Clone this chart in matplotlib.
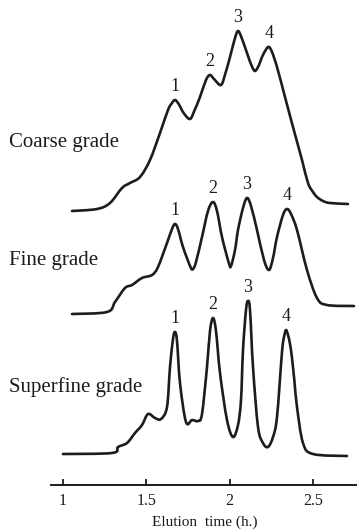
import matplotlib
matplotlib.use("Agg")
import matplotlib.pyplot as plt
import numpy as np
from matplotlib.path import Path
from matplotlib.patches import PathPatch

# elution time (h) and detector response (arbitrary units, above each trace's own baseline)
coarse_t = [1.054, 1.204, 1.282, 1.354, 1.402, 1.462, 1.522, 1.582, 1.630, 1.654, 1.672,
            1.694, 1.724, 1.762, 1.790, 1.822, 1.858, 1.882, 1.906, 1.948, 1.975, 2.002,
            2.032, 2.050, 2.070, 2.104, 2.130, 2.152, 2.176, 2.194, 2.220, 2.236, 2.254,
            2.284, 2.332, 2.380, 2.434, 2.470, 2.500, 2.524, 2.560, 2.602, 2.710]
coarse_y = [0, 2, 8, 23, 28, 34, 51, 78, 101, 108, 111,
            107, 98, 92, 101, 114, 131, 136, 132, 126, 138, 154,
            173, 180, 174, 158, 146, 140, 146, 154, 162, 164, 159,
            144, 114, 84, 51, 28, 19, 14, 10, 8, 7]

fine_t = [1.054, 1.264, 1.312, 1.372, 1.414, 1.474, 1.534, 1.570, 1.624, 1.654, 1.672,
          1.690, 1.720, 1.765, 1.780, 1.798, 1.834, 1.870, 1.900, 1.924, 1.954, 1.995,
          2.008, 2.032, 2.050, 2.080, 2.104, 2.128, 2.164, 2.206, 2.236, 2.260, 2.284,
          2.320, 2.344, 2.368, 2.404, 2.464, 2.524, 2.584, 2.746]
fine_y = [-1, 1, 11, 25, 28, 35, 38, 46, 70, 84, 89,
          84, 66, 46, 44, 51, 76, 102, 111, 102, 76, 50,
          47, 63, 83, 105, 115, 107, 83, 53, 43, 55, 76,
          98, 104, 99, 83, 43, 15, 8, 7]

superfine_t = [1.000, 1.294, 1.330, 1.384, 1.432, 1.474, 1.510, 1.552, 1.588, 1.624, 1.642,
               1.660, 1.672, 1.684, 1.702, 1.738, 1.774, 1.810, 1.834, 1.864, 1.882, 1.900,
               1.918, 1.942, 1.984, 2.020, 2.050, 2.068, 2.080, 2.098, 2.110, 2.122, 2.140,
               2.170, 2.200, 2.230, 2.260, 2.284, 2.314, 2.326, 2.338, 2.350, 2.362, 2.374,
               2.389, 2.404, 2.440, 2.500, 2.704]
superfine_y = [0, 1, 7, 11, 21, 29, 40, 36, 35, 47, 87,
               115, 122, 113, 71, 32, 34, 33, 40, 87, 123, 136,
               123, 81, 34, 17, 29, 54, 104, 144, 153, 144, 87,
               27, 11, 7, 17, 37, 102, 117, 124, 119, 110, 96,
               72, 47, 11, 0, -2]

grades = ["Coarse grade", "Fine grade", "Superfine grade"]
offsets = [243, 141, 0]
peak_times = [[1.672, 1.882, 2.050, 2.236],
              [1.672, 1.900, 2.104, 2.344],
              [1.672, 1.900, 2.110, 2.338]]
xticks = [1, 1.5, 2, 2.5]

INK = "#1c1c1c"


def smooth_path(x, y):
    # draw the trace as a Catmull-Rom curve through the read points
    pts = np.column_stack([x, y])
    n = len(pts)
    verts = [pts[0]]
    codes = [Path.MOVETO]
    for i in range(n - 1):
        p0 = pts[max(i - 1, 0)]
        p1 = pts[i]
        p2 = pts[i + 1]
        p3 = pts[min(i + 2, n - 1)]
        verts += [p1 + (p2 - p0) / 6, p2 - (p3 - p1) / 6, p2]
        codes += [Path.CURVE4] * 3
    return Path(verts, codes)


plt.rcParams["font.family"] = ["Liberation Serif", "DejaVu Serif"]

fig = plt.figure(figsize=(3.57, 5.31), dpi=100)
ax = fig.add_axes([0, 46 / 531, 1, 485 / 531])
ax.set_xlim(0.622, 2.764)
ax.set_ylim(-31, 454)

traces = [(coarse_t, coarse_y), (fine_t, fine_y), (superfine_t, superfine_y)]
label_y = [142, 260, 387]
for (t, y), off, name, peaks, ly in zip(traces, offsets, grades, peak_times, label_y):
    t = np.array(t)
    y = np.array(y) + off
    ax.add_patch(PathPatch(smooth_path(t, y), fill=False, ec=INK, lw=1.9,
                           joinstyle="round", capstyle="round"))
    for k, pt in enumerate(peaks):
        ax.annotate(str(k + 1), (pt, np.interp(pt, t, y)), xytext=(0, 10),
                    textcoords="offset points", ha="center", va="center",
                    fontsize=13, color=INK)
    ax.text(0.025, 1 - ly / 485, name, transform=ax.transAxes,
            fontsize=15, color=INK, ha="left", va="center")

for s in ["top", "right", "left"]:
    ax.spines[s].set_visible(False)
ax.spines["bottom"].set_bounds(0.928, 2.764)
ax.spines["bottom"].set_linewidth(1.4)
ax.spines["bottom"].set_color(INK)
ax.set_yticks([])
ax.set_xticks(xticks, labels=["1", "1.5", "2", "2.5"])
ax.tick_params(axis="x", direction="in", length=4.5, width=1.3, pad=6,
               labelsize=11.5, colors=INK)
ax.patch.set_alpha(0)

fig.text(205 / 357, 1 - 522 / 531, "Elution  time (h.)", ha="center", va="center",
         fontsize=11, color=INK)

fig.savefig("out.png", dpi=100)
